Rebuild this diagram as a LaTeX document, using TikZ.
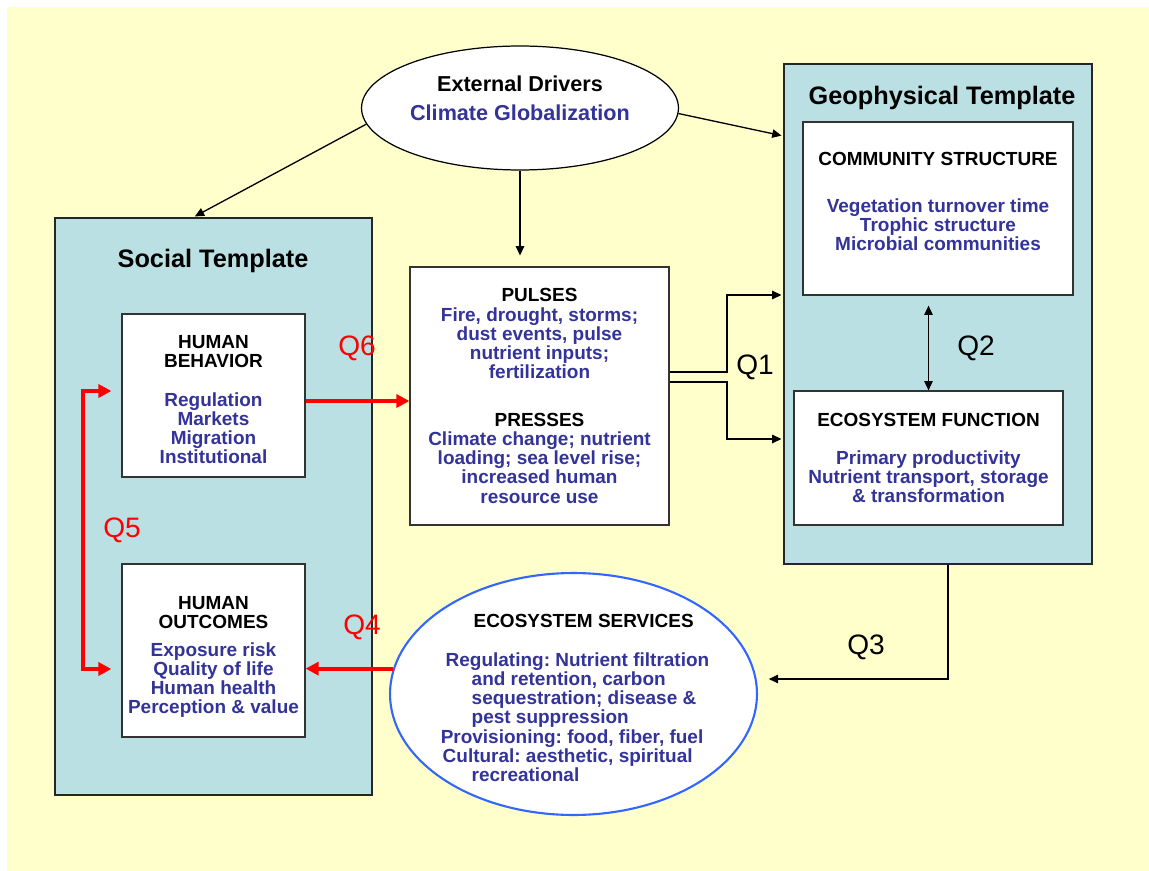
\documentclass[tikz,border=0pt]{standalone}
\usepackage{fontspec}
\setmainfont{Liberation Sans}
\usepackage{tikz}
\usetikzlibrary{arrows.meta}
\usetikzlibrary{shapes.geometric}
\usetikzlibrary{positioning}

\definecolor{paper}{RGB}{255,255,204}
\definecolor{templatefill}{RGB}{187,224,227}
\definecolor{itemblue}{RGB}{51,51,153}
\definecolor{ringblue}{RGB}{51,102,255}

\newcommand{\boxhead}[1]{\textcolor{black}{#1}}

\tikzset{
  panel/.style={draw=black!85, line width=0.9pt, fill=templatefill},
  heading/.style={font=\fontsize{14.4}{16}\selectfont\bfseries, inner sep=0pt},
  card text/.style={align=center, text=itemblue, inner sep=0pt,
    font=\fontsize{10.8}{10.9}\selectfont\bfseries\frenchspacing},
  card/.style={card text, draw=black!80, line width=0.7pt, fill=white},
  driver ring/.style={ellipse, draw=black, line width=0.7pt, fill=white},
  service ring/.style={ellipse, draw=ringblue, line width=1.2pt, fill=white},
  question/.style={font=\fontsize{16}{18}\selectfont, inner sep=0pt},
  social link/.style={red, line width=2.2pt, shorten >=0pt,
    >={Triangle[length=7.4pt,width=7.4pt]}},
}

\begin{document}
\begin{tikzpicture}[->,>={Triangle[length=5.3pt,width=4.8pt]},
      shorten >=1pt,
      x=0.02cm, y=-0.02cm,
      line width=0.75pt]

    \useasboundingbox (0,0) rectangle (1149,871);
    \fill[paper, -] (7,7) rectangle (1149,871);

    % templates
    \node[panel, minimum width=6.34cm, minimum height=11.54cm]
      (social) at (213.5,506.5) {};
    \node[panel, minimum width=6.16cm, minimum height=10cm]
      (geo) at (938,314) {};
    \node[heading, anchor=base]
      (social title) at (213,268) {Social Template};
    \node[heading, anchor=base]
      (geo title) at (942,105) {Geophysical Template};

    % drivers
    \node[driver ring, minimum width=6.34cm, minimum height=2.48cm]
      (drivers) at (520,108) {};
    \node[align=center, inner sep=0pt, font=\fontsize{12.3}{16.4}\selectfont\bfseries]
      (drivers text) at (520,98.5)
      {External Drivers\\\textcolor{itemblue}{Climate Globalization}};

    % social side
    \node[card, minimum width=3.66cm, minimum height=3.26cm]
      (behavior) at (213.5,395.5)
      {\rule{0pt}{12.2pt}\boxhead{HUMAN}\\\boxhead{BEHAVIOR}\\[11pt]Regulation\\Markets\\Migration\\Institutional};
    \node[card, minimum width=3.66cm, minimum height=3.46cm]
      (outcomes) at (213.5,650.5)
      {\rule{0pt}{14.5pt}\boxhead{HUMAN}\\\boxhead{OUTCOMES}\\[5pt]Exposure risk\\Quality of life\\Human health\\Perception \& value};

    % pulses and presses
    \node[card, minimum width=5.18cm, minimum height=5.16cm]
      (pulses) at (539.5,396)
      {\boxhead{PULSES}\\Fire, drought, storms;\\dust events, pulse\\nutrient inputs;\\fertilization\\[16.4pt]%
       \boxhead{PRESSES}\\Climate change; nutrient\\loading; sea level rise;\\increased human\\resource use};

    % geophysical side
    \node[card, minimum width=5.4cm, minimum height=3.46cm]
      (community) at (938,208.5) {};
    \node[card text, anchor=north]
      (community text) at (938,152)
      {\boxhead{COMMUNITY STRUCTURE}\\[15.7pt]Vegetation turnover time\\Trophic structure\\Microbial communities};
    \node[card, minimum width=5.38cm, minimum height=2.68cm]
      (ecofunc) at (928.5,458)
      {\boxhead{ECOSYSTEM FUNCTION}\\[10.6pt]Primary productivity\\Nutrient transport, storage\\\& transformation};

    % services
    \node[service ring, minimum width=7.34cm, minimum height=4.84cm]
      (services) at (573.5,694) {};
    \node[card text, align=left]
      (services text) at (575,698)
      {\hspace*{18.7pt}\boxhead{ECOSYSTEM SERVICES}\\[11.2pt]
       \hspace*{2.8pt}Regulating: Nutrient filtration\\
       \hspace*{17.6pt}and retention, carbon\\
       \hspace*{17.6pt}sequestration; disease \&\\
       \hspace*{17.6pt}pest suppression\\
       Provisioning: food, fiber, fuel\\
       \hspace*{1.1pt}Cultural: aesthetic, spiritual\\
       \hspace*{17.6pt}recreational};

    \path[->]
      (drivers.186) edge (social.94)
      (drivers.south) edge [shorten >=6.2pt] (drivers.south |- pulses.north)
      (drivers.358) edge (geo.131.5);

    % Q1
    \coordinate (q1 up) at (727,295);
    \coordinate (q1 down) at (727,439);
    \draw ([shift={(0,-24)}]pulses.east) -| (q1 up) -- (q1 up -| geo.west);
    \draw ([shift={(0,-14)}]pulses.east) -| (q1 down) -- (q1 down -| geo.west);

    % Q2
    \draw[<->, shorten >=5.7pt] (ecofunc.north) -- (ecofunc.north |- community.south);

    % Q3
    \coordinate (q3 end) at ([shift={(9,-15)}]services.east);
    \draw ([shift={(10,0)}]geo.south) |- (q3 end);

    % Q4 - Q6
    \coordinate (q6 start) at ([shift={(0,5.5)}]behavior.east);
    \draw[social link] (q6 start) -- (q6 start -| pulses.west);
    \draw[social link] (services.172) -- (services.172 -| outcomes.east);
    \coordinate (q5 bend) at (83,530);
    \draw[social link, <->] ([shift={(-10,-4.5)}]behavior.west) -| (q5 bend)
      |- ([shift={(-10,18.5)}]outcomes.west);

    \node[question] (q1) at (755,367) {Q1};
    \node[question] (q2) at (976,348) {Q2};
    \node[question] (q3) at (866,647) {Q3};
    \node[question, text=red] (q4) at (362,627) {Q4};
    \node[question, text=red] (q5) at (122,530) {Q5};
    \node[question, text=red] (q6) at (357,348) {Q6};

  \end{tikzpicture}
\end{document}
